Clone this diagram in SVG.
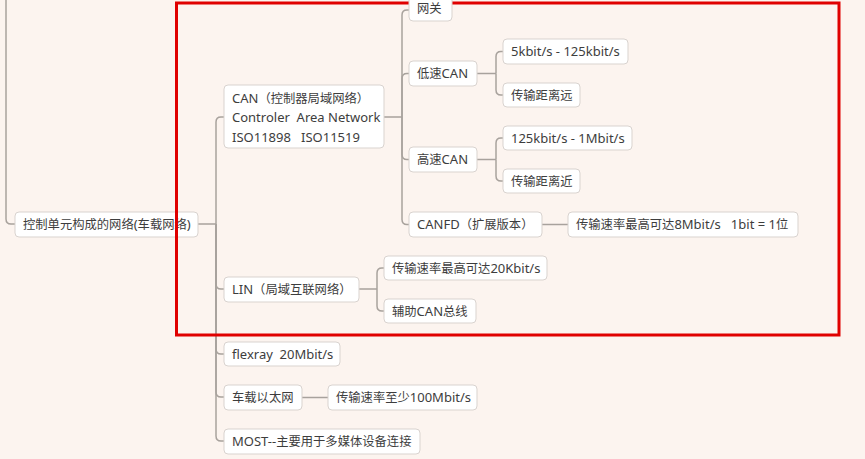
<svg xmlns="http://www.w3.org/2000/svg" width="865" height="459" viewBox="0 0 865 459">
<style>
.bg{fill:#fcf4ef}
.node rect{fill:#ffffff;stroke:#d9d3cf;stroke-width:1}
.node text{font-family:"Noto Sans","Noto Sans CJK SC",sans-serif;font-size:13px;fill:#3d3d3d;white-space:pre}
.node .c{font-family:"Noto Sans CJK SC",sans-serif;font-size:12.3px}
.conn path{fill:none;stroke:#a8a29d;stroke-width:1.5}
.mark{fill:none;stroke:#e00000;stroke-width:3}
</style>
<rect class="bg" x="0" y="0" width="865" height="459"/>
<g id="connectors" class="conn">
<path d="M6,0 V219 Q6,224 11,224 H15"/>
<path d="M198,224 H216"/>
<path d="M216,224 V122 Q216,117 221,117 H224"/>
<path d="M216,224 V284 Q216,289 221,289 H224"/>
<path d="M216,224 V349 Q216,354 221,354 H224"/>
<path d="M216,224 V392 Q216,397 221,397 H224"/>
<path d="M216,224 V436 Q216,441 221,441 H224"/>
<path d="M384,117 H402"/>
<path d="M402,117 V15 Q402,10 407,10 H409"/>
<path d="M402,117 V78.5 Q402,73.5 407,73.5 H409"/>
<path d="M402,117 V154.5 Q402,159.5 407,159.5 H409"/>
<path d="M402,117 V219.5 Q402,224.5 407,224.5 H409"/>
<path d="M477,73.5 H496"/>
<path d="M496,73.5 V56.5 Q496,51.5 501,51.5 H503"/>
<path d="M496,73.5 V90 Q496,95 501,95 H503"/>
<path d="M477,159.5 H496"/>
<path d="M496,159.5 V143 Q496,138 501,138 H503"/>
<path d="M496,159.5 V176 Q496,181 501,181 H503"/>
<path d="M542,224.5 H568"/>
<path d="M359,289 H377"/>
<path d="M377,289 V273 Q377,268 382,268 H384"/>
<path d="M377,289 V306 Q377,311 382,311 H384"/>
<path d="M302,397.5 H328"/>
</g>
<g id="n-root" class="node"><rect x="15" y="212" width="183" height="25" rx="4"/><text x="23" y="229"><tspan class="c">控制单元构成的网络</tspan>(<tspan class="c">车载网络</tspan>)</text></g>
<g id="n-can" class="node"><rect x="224" y="85" width="160" height="63" rx="4"/><text x="232" y="102.5">CAN<tspan class="c">（控制器局域网络）</tspan></text><text x="232" y="122">Controler  Area Network</text><text x="232" y="141.5">ISO11898   ISO11519</text></g>
<g id="n-lowcan" class="node"><rect x="409" y="61" width="68" height="25" rx="4"/><text x="417" y="78"><tspan class="c">低速</tspan>CAN</text></g>
<g id="n-low-speed" class="node"><rect x="503" y="39" width="125" height="25" rx="4"/><text x="511" y="56">5kbit/s - 125kbit/s</text></g>
<g id="n-low-dist" class="node"><rect x="503" y="83" width="77" height="24" rx="4"/><text x="511" y="99.5"><tspan class="c">传输距离远</tspan></text></g>
<g id="n-highcan" class="node"><rect x="409" y="147" width="68" height="25" rx="4"/><text x="417" y="164"><tspan class="c">高速</tspan>CAN</text></g>
<g id="n-high-speed" class="node"><rect x="503" y="126" width="129" height="24" rx="4"/><text x="511" y="142.5">125kbit/s - 1Mbit/s</text></g>
<g id="n-high-dist" class="node"><rect x="503" y="169" width="77" height="24" rx="4"/><text x="511" y="185.5"><tspan class="c">传输距离近</tspan></text></g>
<g id="n-canfd" class="node"><rect x="409" y="212" width="133" height="25" rx="4"/><text x="417" y="229">CANFD<tspan class="c">（扩展版本）</tspan></text></g>
<g id="n-canfd-speed" class="node"><rect x="568" y="212" width="230" height="25" rx="4"/><text x="576" y="229"><tspan class="c">传输速率最高可达</tspan>8Mbit/s   1bit = 1<tspan class="c">位</tspan></text></g>
<g id="n-lin" class="node"><rect x="224" y="277" width="135" height="25" rx="4"/><text x="232" y="293.5">LIN<tspan class="c">（局域互联网络）</tspan></text></g>
<g id="n-lin-speed" class="node"><rect x="384" y="256" width="163" height="24" rx="4"/><text x="392" y="272.5"><tspan class="c">传输速率最高可达</tspan>20Kbit/s</text></g>
<g id="n-lin-aux" class="node"><rect x="384" y="299" width="92" height="24" rx="4"/><text x="392" y="315.5"><tspan class="c">辅助</tspan>CAN<tspan class="c">总线</tspan></text></g>
<g id="n-flexray" class="node"><rect x="224" y="342" width="116" height="24" rx="4"/><text x="232" y="358.5">flexray  20Mbit/s</text></g>
<g id="n-eth" class="node"><rect x="224" y="385" width="78" height="25" rx="4"/><text x="232" y="402"><tspan class="c">车载以太网</tspan></text></g>
<g id="n-eth-speed" class="node"><rect x="328" y="385" width="149" height="25" rx="4"/><text x="336" y="402"><tspan class="c">传输速率至少</tspan>100Mbit/s</text></g>
<g id="n-most" class="node"><rect x="224" y="429" width="196" height="25" rx="4"/><text x="232" y="446">MOST--<tspan class="c">主要用于多媒体设备连接</tspan></text></g>
<rect class="mark" x="176.5" y="3" width="662.5" height="332"/>
<g id="n-gateway" class="node"><rect x="409" y="-6" width="43" height="27" rx="4"/><text x="417" y="12.5"><tspan class="c">网关</tspan></text></g>
</svg>
